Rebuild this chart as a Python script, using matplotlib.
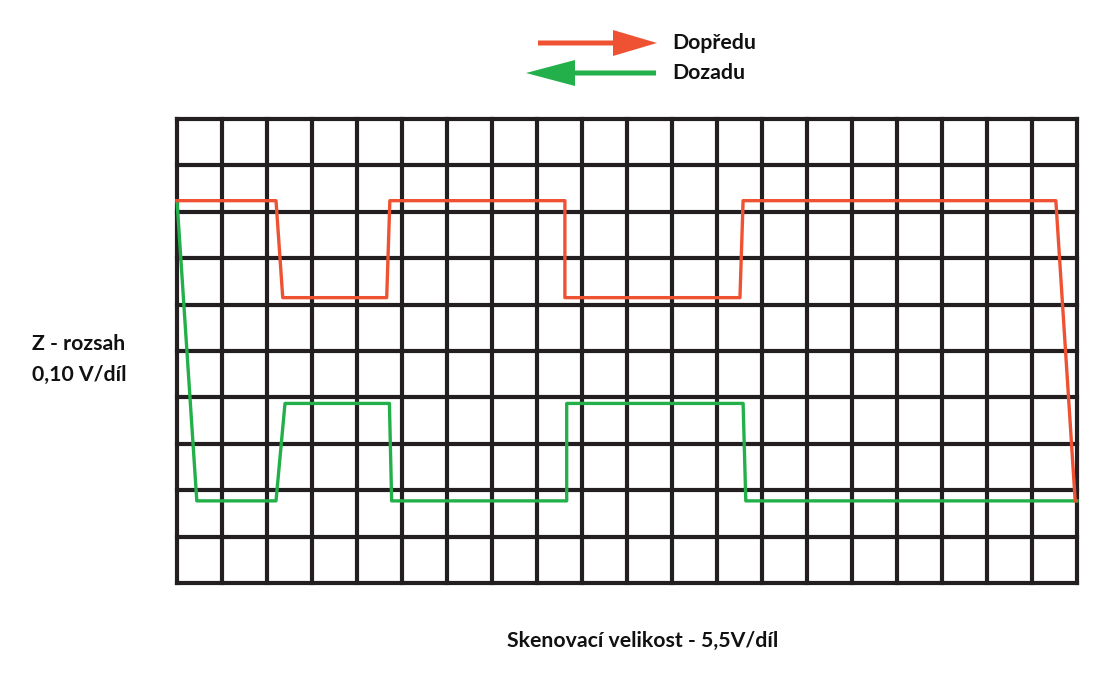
import matplotlib.pyplot as plt
from matplotlib.patches import FancyArrow

# grid divisions
n_cols = 20
n_rows = 10

# traces, in divisions (x from left edge, y from bottom edge)
red_x = [0, 2.2, 2.35, 4.66, 4.73, 8.62, 8.62, 12.51, 12.58, 19.53, 19.96]
red_y = [8.24, 8.24, 6.15, 6.15, 8.24, 8.24, 6.15, 6.15, 8.24, 8.24, 1.77]
green_x = [0, 0.44, 2.2, 2.4, 4.72, 4.77, 8.66, 8.66, 12.58, 12.64, 20]
green_y = [8.24, 1.77, 1.77, 3.87, 3.87, 1.77, 1.77, 3.87, 3.87, 1.77, 1.77]

legend_labels = ["Dopředu", "Dozadu"]
y_label = ["Z - rozsah", "0,10 V/díl"]
x_label = "Skenovací velikost - 5,5V/díl"

RED = "#ee5232"
GREEN = "#23b04a"
FONT = ["Lato", "DejaVu Sans"]
FS = 15.3

fig = plt.figure(figsize=(11.2, 6.75), dpi=100)
fig.patch.set_facecolor("white")

ax = fig.add_axes([177 / 1120, 1 - 583 / 675, 900 / 1120, 464 / 675])
ax.set_xlim(0, n_cols)
ax.set_ylim(0, n_rows)
ax.axis("off")

# the scope grid
ax.vlines(range(n_cols + 1), 0, n_rows, color="#231f20", lw=3.0,
          clip_on=False, capstyle="projecting", zorder=1)
ax.hlines(range(n_rows + 1), 0, n_cols, color="#231f20", lw=3.0,
          clip_on=False, capstyle="projecting", zorder=1)

ax.plot(green_x, green_y, color=GREEN, lw=2.4, clip_on=False, zorder=3)
ax.plot(red_x, red_y, color=RED, lw=2.4, clip_on=False, zorder=4)

# overlay in pixel coordinates for arrows and labels
ov = fig.add_axes([0, 0, 1, 1])
ov.set_xlim(0, 1120)
ov.set_ylim(675, 0)
ov.axis("off")
ov.patch.set_alpha(0)

ov.add_patch(FancyArrow(538, 43, 119, 0, width=5, head_width=26, head_length=44,
                        length_includes_head=True, color=RED, lw=0))
ov.add_patch(FancyArrow(656, 73, -130, 0, width=5, head_width=26, head_length=49,
                        length_includes_head=True, color=GREEN, lw=0))

ov.text(672, 43, legend_labels[0], fontsize=FS, fontweight="bold", family=FONT,
        va="center", ha="left", color="#111111")
ov.text(672, 73, legend_labels[1], fontsize=FS, fontweight="bold", family=FONT,
        va="center", ha="left", color="#111111")

ov.text(32, 344, y_label[0], fontsize=FS, fontweight="bold", family=FONT,
        va="center", ha="left", color="#111111")
ov.text(32, 375, y_label[1], fontsize=FS, fontweight="bold", family=FONT,
        va="center", ha="left", color="#111111")

ov.text(643, 641, x_label, fontsize=FS, fontweight="bold", family=FONT,
        va="center", ha="center", color="#111111")

fig.savefig("out.png", dpi=100)
